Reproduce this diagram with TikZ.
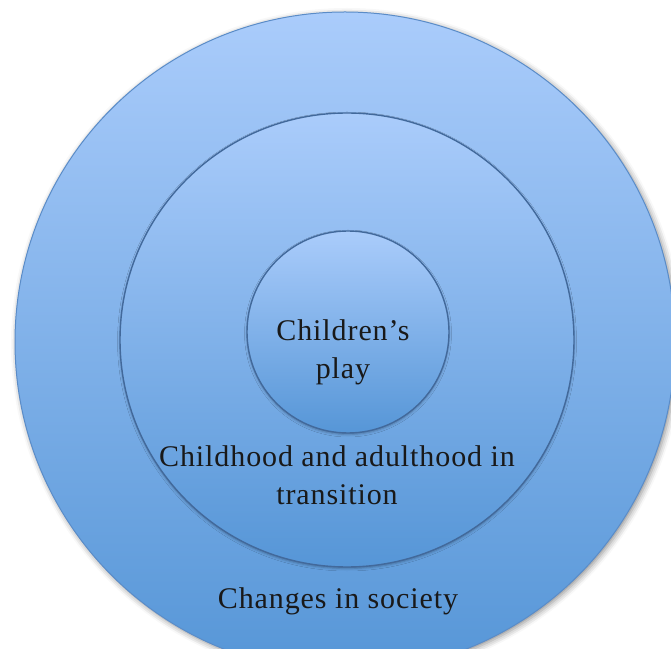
\documentclass[tikz,border=0pt]{standalone}
\usepackage{fontspec}
\setmainfont{Liberation Serif}
\usetikzlibrary{shadows.blur}
\definecolor{ringtop}{RGB}{170,204,251}
\definecolor{ringbot}{RGB}{86,150,215}
\definecolor{ringedge}{RGB}{66,105,155}
\definecolor{outeredge}{RGB}{90,140,200}
\begin{document}
\begin{tikzpicture}[x=1pt,y=1pt,
  ring/.style={circle, draw=ringedge, line width=1.4pt, top color=ringtop, bottom color=ringbot, inner sep=0pt,
    blur shadow={shadow xshift=0pt, shadow yshift=-1.5pt, shadow blur radius=2.5pt, shadow opacity=30}},
  outerring/.style={circle, draw=outeredge, line width=1pt, top color=ringtop, bottom color=ringbot, inner sep=0pt,
    blur shadow={shadow xshift=2pt, shadow yshift=-2pt, shadow blur radius=6pt, shadow opacity=45}},
  lbl/.style={font=\addfontfeatures{LetterSpace=3}\fontsize{30}{37.5}\selectfont, text=black!90, align=center, inner sep=0pt}]
\useasboundingbox (0,0) rectangle (671,648);
\clip (0,0) rectangle (671,648);
\node[outerring, minimum size=660pt] (outer) at (345,306) {};
\node[ring, minimum size=454pt] (middle) at (347,308) {};
\node[ring, minimum size=202pt] (inner) at (348,316) {};
\node[lbl] (play) at (343,295.5) {Children’s\\play};
\node[lbl] (trans) at (337,173) {Childhood and adulthood in\\transition};
\node[lbl, anchor=base] (soc) at (338,40) {Changes in society};
\end{tikzpicture}
\end{document}
